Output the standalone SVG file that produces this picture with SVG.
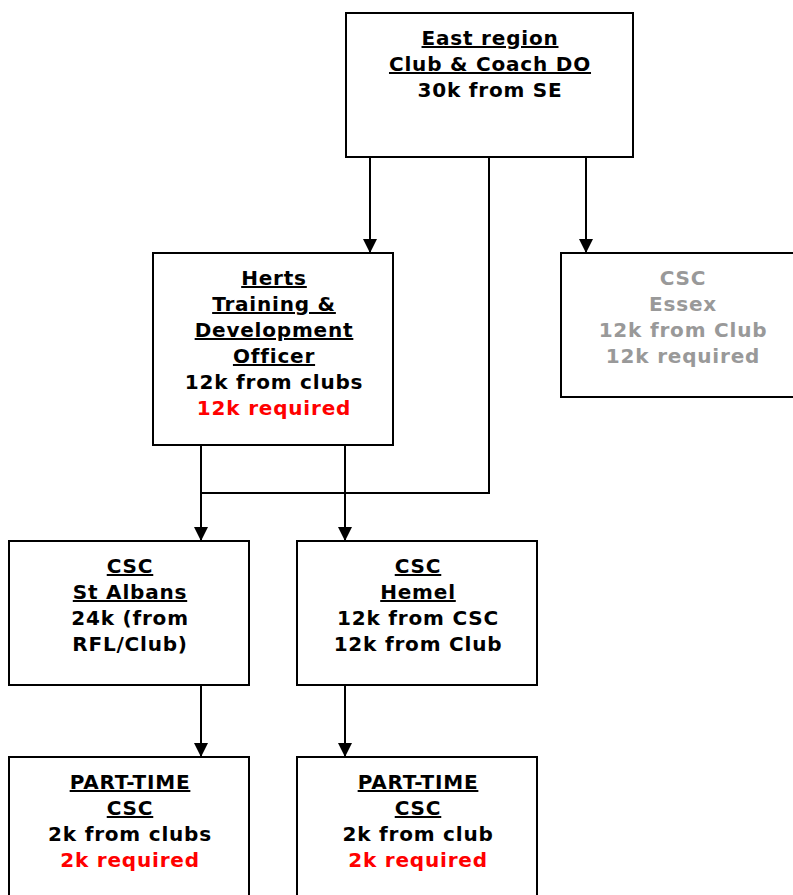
<svg xmlns="http://www.w3.org/2000/svg" width="793" height="895" viewBox="0 0 793 895">
<style>
.box{fill:#fff;stroke:#000;stroke-width:2}
.t{font-family:"DejaVu Sans","Verdana",sans-serif;font-weight:bold;font-size:20px;letter-spacing:0.8px;text-anchor:middle;fill:#000}
.u{text-decoration:underline}
.red{fill:#ff0000}
.gray{fill:#999999}
.c{fill:none;stroke:#000;stroke-width:2}
</style>
<defs>
<marker id="arr" markerUnits="userSpaceOnUse" markerWidth="14" markerHeight="14" refX="14" refY="7" orient="auto">
<path d="M0,0 L14,7 L0,14 z" fill="#000"/>
</marker>
</defs>
<rect width="793" height="895" fill="#fff"/>
<g id="connectors">
<path class="c" d="M370,157 V253" marker-end="url(#arr)"/>
<path class="c" d="M586,157 V253" marker-end="url(#arr)"/>
<path class="c" d="M489,157 V493 H201"/>
<path class="c" d="M201,445 V541" marker-end="url(#arr)"/>
<path class="c" d="M345,445 V541" marker-end="url(#arr)"/>
<path class="c" d="M201,685 V757" marker-end="url(#arr)"/>
<path class="c" d="M345,685 V757" marker-end="url(#arr)"/>
</g>
<g id="east">
<rect class="box" x="346" y="13" width="287" height="144"/>
<text class="t u" x="490" y="45">East region</text>
<text class="t u" x="490" y="71">Club &amp; Coach DO</text>
<text class="t" x="490" y="97">30k from SE</text>
</g>
<g id="herts">
<rect class="box" x="153" y="253" width="240" height="192"/>
<text class="t u" x="274" y="285">Herts</text>
<text class="t u" x="274" y="311">Training &amp;</text>
<text class="t u" x="274" y="337">Development</text>
<text class="t u" x="274" y="363">Officer</text>
<text class="t" x="274" y="389">12k from clubs</text>
<text class="t red" x="274" y="415">12k required</text>
</g>
<g id="essex">
<rect class="box" x="561" y="253" width="244" height="144"/>
<text class="t gray" x="683" y="285">CSC</text>
<text class="t gray" x="683" y="311">Essex</text>
<text class="t gray" x="683" y="337">12k from Club</text>
<text class="t gray" x="683" y="363">12k required</text>
</g>
<g id="stalbans">
<rect class="box" x="9" y="541" width="240" height="144"/>
<text class="t u" x="130" y="573">CSC</text>
<text class="t u" x="130" y="599">St Albans</text>
<text class="t" x="130" y="625">24k (from</text>
<text class="t" x="130" y="651">RFL/Club)</text>
</g>
<g id="hemel">
<rect class="box" x="297" y="541" width="240" height="144"/>
<text class="t u" x="418" y="573">CSC</text>
<text class="t u" x="418" y="599">Hemel</text>
<text class="t" x="418" y="625">12k from CSC</text>
<text class="t" x="418" y="651">12k from Club</text>
</g>
<g id="parttime1">
<rect class="box" x="9" y="757" width="240" height="150"/>
<text class="t u" x="130" y="789">PART-TIME</text>
<text class="t u" x="130" y="815">CSC</text>
<text class="t" x="130" y="841">2k from clubs</text>
<text class="t red" x="130" y="867">2k required</text>
</g>
<g id="parttime2">
<rect class="box" x="297" y="757" width="240" height="150"/>
<text class="t u" x="418" y="789">PART-TIME</text>
<text class="t u" x="418" y="815">CSC</text>
<text class="t" x="418" y="841">2k from club</text>
<text class="t red" x="418" y="867">2k required</text>
</g>
</svg>
